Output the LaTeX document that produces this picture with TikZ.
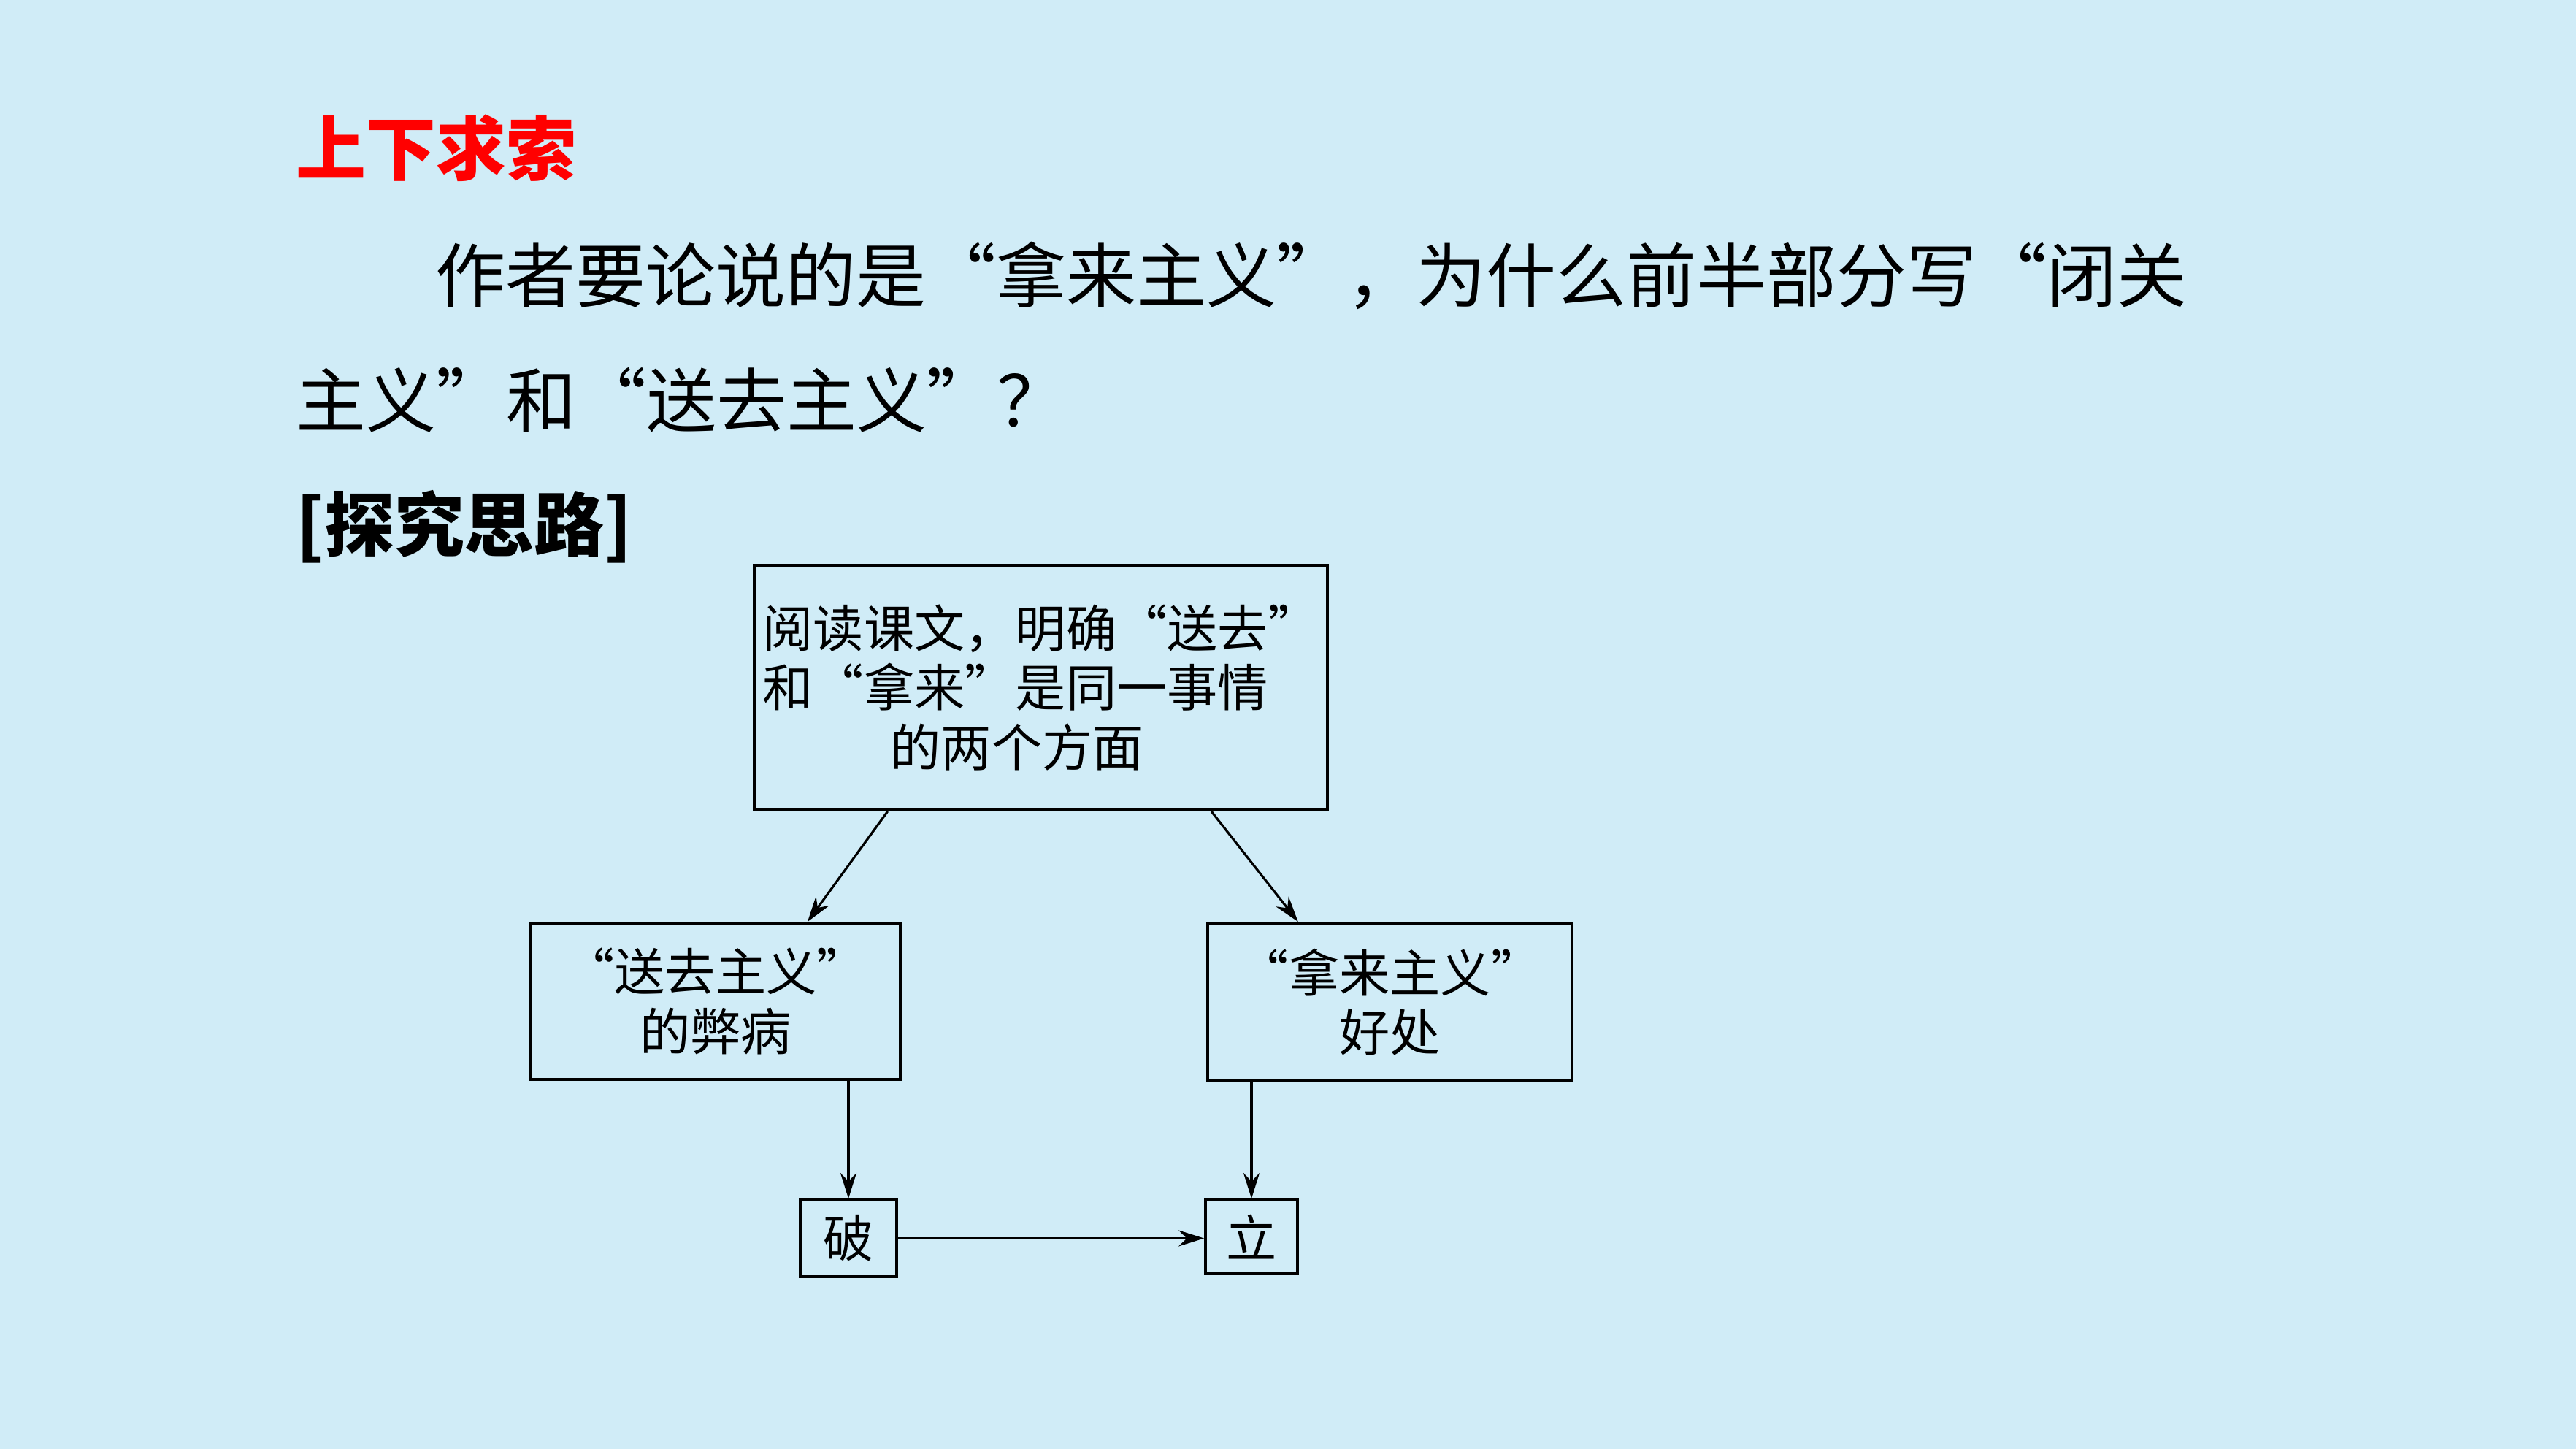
\documentclass[tikz,border=0pt]{standalone}
\usepackage{fontspec}
\setmainfont{Noto Sans CJK SC}
\usetikzlibrary{arrows.meta, calc}
\definecolor{tianlan}{RGB}{208,236,247}
\definecolor{zhuhong}{RGB}{255,0,0}

\begin{document}
\begin{tikzpicture}[
  kuang/.style={draw, line width=1.1pt, inner sep=0pt, align=center,
    font=\fontsize{19.7pt}{23.3pt}\selectfont},
  jian/.style={-{Stealth[length=3.5mm, width=2.2mm]}, line width=0.9pt},
  hang/.style={anchor=west, inner sep=0pt,
    font=\fontsize{27.3pt}{32pt}\selectfont}]
  \fill[tianlan] (0,0) rectangle (35.28,19.84);
  \node[hang, text=zhuhong, font=\fontsize{27.3pt}{32pt}\selectfont\bfseries]
    (biaoti) at (4.05,17.81) {上下求索};
  \node[hang] (wen1) at (5.96,16.07) {作者要论说的是“拿来主义”，为什么前半部分写“闭关};
  \node[hang] (wen2) at (4.05,14.36) {主义”和“送去主义”？};
  \node[hang, font=\fontsize{27.3pt}{32pt}\selectfont\bfseries]
    (silu) at (4.05,12.63) {[探究思路]};

  \node[kuang, align=left, minimum width=7.85cm, minimum height=3.35cm]
    (yuedu) at (14.255,10.425) {阅读课文，明确“送去”\\和“拿来”是同一事情\\\hspace*{1.75cm}的两个方面};
  \node[kuang, minimum width=5.06cm, minimum height=2.14cm]
    (songqu) at (9.80,6.13) {“送去主义”\\的弊病};
  \node[kuang, minimum width=4.99cm, minimum height=2.16cm]
    (nalai) at (19.035,6.12) {“拿来主义”\\好处};
  \node[kuang, minimum width=1.32cm, minimum height=1.05cm] (po) at (11.62,2.885) {破};
  \node[kuang, minimum width=1.26cm, minimum height=1.01cm] (li) at (17.14,2.905) {立};

  \draw[jian] ($(yuedu.south west)!0.234!(yuedu.south east)$)
    -- ($(songqu.north west)!0.747!(songqu.north east)$);
  \draw[jian] ($(yuedu.south west)!0.796!(yuedu.south east)$)
    -- ($(nalai.north west)!0.25!(nalai.north east)$);
  \draw[jian] (po.north |- songqu.south) -- (po.north);
  \draw[jian] (li.north |- nalai.south) -- (li.north);
  \draw[jian] (po.east) -- (po.east -| li.west);
\end{tikzpicture}
\end{document}
